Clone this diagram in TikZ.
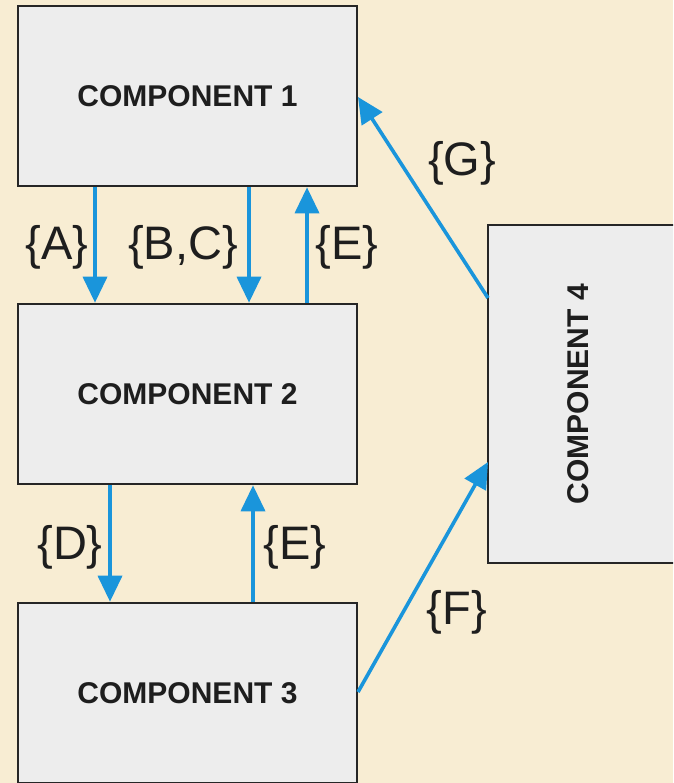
\documentclass[tikz,border=0pt]{standalone}
\usepackage{fontspec}
\setmainfont{Liberation Sans}
\usetikzlibrary{arrows.meta,calc}
\definecolor{bgc}{HTML}{F8EDD3}
\definecolor{boxc}{HTML}{EDEDED}
\definecolor{edgec}{HTML}{262626}
\definecolor{arrc}{HTML}{1A95DB}
\definecolor{txtc}{HTML}{1E1E1E}
\tikzset{
  comp/.style={draw=edgec, fill=boxc, line width=2.6pt, inner sep=0pt,
    text=txtc, font=\fontsize{30}{32}\selectfont\bfseries},
  flow/.style={draw=arrc, line width=3.6pt, -{Triangle[length=26pt,width=24pt]}},
  lbl/.style={text=txtc, font=\fontsize{47}{50}\selectfont, inner sep=0pt}
}
\begin{document}
\begin{tikzpicture}[x=1pt,y=-1pt]
\useasboundingbox (0,0) rectangle (673,783);
\fill[bgc] (0,0) rectangle (673,783);
\begin{scope}
\clip (0,0) rectangle (673,783);
\node[comp, minimum width=339pt, minimum height=180pt] (c1) at (187.5,96) {COMPONENT 1};
\node[comp, minimum width=339pt, minimum height=180pt] (c2) at (187.5,394) {COMPONENT 2};
\node[comp, minimum width=339pt, minimum height=180pt] (c3) at (187.5,693) {COMPONENT 3};
\node[comp, minimum width=200pt, minimum height=338pt] (c4) at (588,394) {};
\node[text=txtc, font=\fontsize{30}{32}\selectfont\bfseries, rotate=90] (t4) at (578,394) {COMPONENT 4};
\end{scope}
\coordinate (xa) at (95,0);
\coordinate (xb) at (249,0);
\coordinate (xe) at (307,0);
\coordinate (xd) at (110,0);
\coordinate (xf) at (253,0);
\coordinate (g4) at (488,298);
\coordinate (g1) at (358,97);
\coordinate (f3) at (358,692);
\coordinate (f4) at (488,462);
\draw[flow] (c1.south -| xa) -- (c2.north -| xa);
\draw[flow] (c1.south -| xb) -- (c2.north -| xb);
\draw[flow] (c2.north -| xe) -- (c1.south -| xe);
\draw[flow] (c2.south -| xd) -- (c3.north -| xd);
\draw[flow] (c3.north -| xf) -- (c2.south -| xf);
\draw[flow] (g4) -- (g1);
\draw[flow] (f3) -- (f4);
\node[lbl] (la) at (57,247) {\{A\}};
\node[lbl] (lbc) at (183,247) {\{B,C\}};
\node[lbl] (le1) at (347,247) {\{E\}};
\node[lbl] (ld) at (70,547) {\{D\}};
\node[lbl] (le2) at (295,547) {\{E\}};
\node[lbl] (lf) at (457,612) {\{F\}};
\node[lbl] (lg) at (462,163) {\{G\}};
\end{tikzpicture}
\end{document}
